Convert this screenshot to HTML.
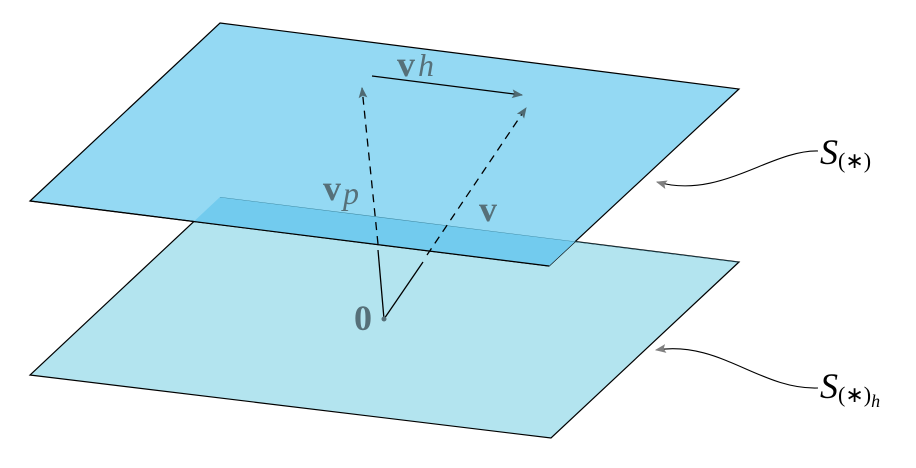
<!DOCTYPE html>
<html><head><meta charset="utf-8"><style>body{margin:0;background:#fff}svg{display:block}</style></head><body>
<svg width="916" height="468" viewBox="0 0 916 468" xmlns="http://www.w3.org/2000/svg">
<defs>
<clipPath id="bot"><polygon points="220,197 739,262 551,438 30,375"/></clipPath>
<marker id="ah" viewBox="0 0 10 10" refX="9" refY="5" markerWidth="11" markerHeight="11" markerUnits="userSpaceOnUse" orient="auto"><path d="M0,1 L10,5 L0,9 L2,5 Z" fill="#4f6a72"/></marker>
<marker id="ag" viewBox="0 0 10 10" refX="9" refY="5" markerWidth="11" markerHeight="11" markerUnits="userSpaceOnUse" orient="auto"><path d="M0,1 L10,5 L0,9 L2,5 Z" fill="#808080"/></marker>
</defs>
<polygon points="220,197 739,262 551,438 30,375" fill="#b3e4ef" stroke="#000" stroke-width="1.2"/>
<polygon points="220,23 739,89 549,266 30,201" fill="#94d9f3" stroke="#000" stroke-width="1.2"/>
<polygon points="220,23 739,89 549,266 30,201" fill="#72cbee" clip-path="url(#bot)"/>
<line x1="220" y1="197" x2="739" y2="262" stroke="#3a7f96" stroke-width="0.8" clip-path="url(#bot)"/>
<polyline points="549,266 30,201" fill="none" stroke="#000" stroke-width="1.2"/>
<line x1="384" y1="319" x2="378" y2="250" stroke="#000" stroke-width="1.3"/>
<line x1="378" y1="244" x2="362" y2="88" stroke="#000" stroke-width="1.3" stroke-dasharray="8,6" marker-end="url(#ah)"/>
<line x1="384" y1="319" x2="423" y2="262" stroke="#000" stroke-width="1.3"/>
<line x1="427" y1="255" x2="526" y2="108" stroke="#000" stroke-width="1.3" stroke-dasharray="8,6" marker-end="url(#ah)"/>
<line x1="372" y1="76" x2="522" y2="95" stroke="#000" stroke-width="1.3" marker-end="url(#ah)"/>
<circle cx="384" cy="319" r="2.5" fill="#567079"/>
<g font-family="Liberation Serif, serif" fill="#567079">
<text x="397" y="76" font-size="36" font-weight="bold">v<tspan font-style="italic" font-weight="normal" font-size="32" dx="3">h</tspan></text>
<text x="323" y="200" font-size="36" font-weight="bold">v<tspan font-style="italic" font-weight="normal" font-size="32" dx="2" dy="4">p</tspan></text>
<text x="479" y="221" font-size="36" font-weight="bold">v</text>
<text x="354" y="330" font-size="36" font-weight="bold">0</text>
</g>
<path d="M818,151 C770,150 720,200 657,182" fill="none" stroke="#000" stroke-width="1.1" marker-end="url(#ag)"/>
<path d="M818,388 C760,390 720,340 656,350" fill="none" stroke="#000" stroke-width="1.1" marker-end="url(#ag)"/>
<g font-family="Liberation Serif, serif" fill="#000">
<text x="820" y="164" font-size="36" font-style="italic">S<tspan font-style="normal" font-size="22" dy="4">(∗)</tspan></text>
<text x="820" y="398" font-size="36" font-style="italic">S<tspan font-style="normal" font-size="22" dy="4">(∗)</tspan><tspan font-size="18" dy="5">h</tspan></text>
</g>
</svg>
</body></html>
